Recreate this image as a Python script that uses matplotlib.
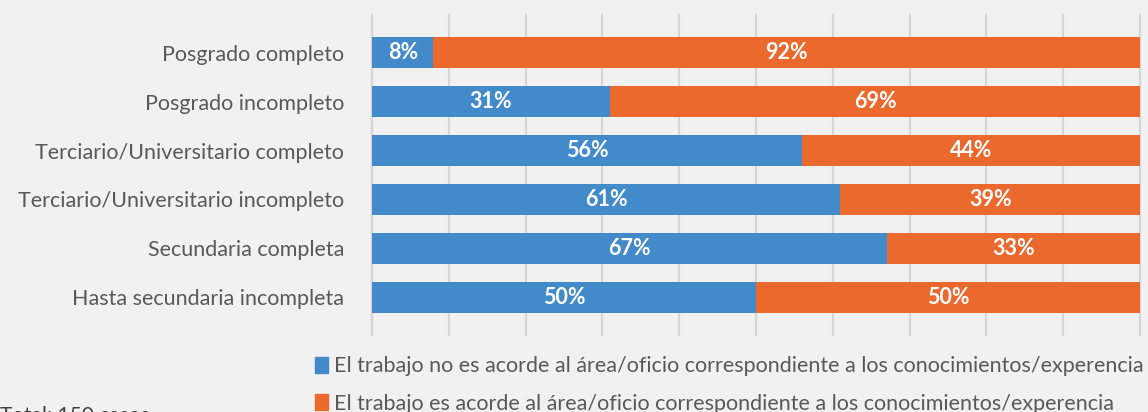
import matplotlib.pyplot as plt
from matplotlib.patches import Patch

# ── data ─────────────────────────────────────────────
categories = [
    "Posgrado completo",
    "Posgrado incompleto",
    "Terciario/Universitario completo",
    "Terciario/Universitario incompleto",
    "Secundaria completa",
    "Hasta secundaria incompleta",
]
no_acorde = [8, 31, 56, 61, 67, 50]
acorde = [92, 69, 44, 39, 33, 50]
series_labels = [
    "El trabajo no es acorde al área/oficio correspondiente a los conocimientos/experencia",
    "El trabajo es acorde al área/oficio correspondiente a los conocimientos/experencia",
]
note = "Total: 150 casos"

BLUE = "#428ACA"
ORANGE = "#EC692E"
BG = "#F1F1F1"
GRID = "#D6D6D6"
TXT = "#595959"

plt.rcParams["font.family"] = ["Lato", "DejaVu Sans"]

fig = plt.figure(figsize=(11.48, 4.12), dpi=100, facecolor=BG)
ax = fig.add_axes([372 / 1148, 1 - 335 / 412, 768 / 1148, 320 / 412])
ax.set_facecolor(BG)

y = list(range(len(categories)))
h = 0.63
ax.barh(y, no_acorde, height=h, color=BLUE, zorder=3)
ax.barh(y, acorde, left=no_acorde, height=h, color=ORANGE, zorder=3)

# value labels
for i in y:
    ax.text(no_acorde[i] / 2, i, f"{no_acorde[i]}%", ha="center", va="center",
            color="white", fontsize=15.5, fontweight="bold", zorder=4)
    ax.text(no_acorde[i] + acorde[i] / 2, i, f"{acorde[i]}%", ha="center", va="center",
            color="white", fontsize=15.5, fontweight="bold", zorder=4)

ax.set_xlim(0, 100)
ax.set_ylim(5.77, -0.77)
ax.set_xticks(range(0, 101, 10))
ax.set_xticklabels([])
ax.tick_params(axis="both", length=0)
ax.set_yticks(y)
ax.set_yticklabels(categories, fontsize=15.5, color=TXT)
ax.tick_params(axis="y", pad=20)
ax.grid(axis="x", color=GRID, linewidth=1.5, zorder=0)
for ln in ax.get_xgridlines():
    ln.set_clip_on(False)
for s in ["top", "right", "bottom"]:
    ax.spines[s].set_visible(False)
ax.spines["left"].set_color(GRID)
ax.spines["left"].set_linewidth(1.5)

# legend
handles = [Patch(color=BLUE), Patch(color=ORANGE)]
leg = fig.legend(handles, series_labels, loc="center left",
                 bbox_to_anchor=(306 / 1148, 1 - 385 / 412), frameon=False,
                 fontsize=15.5, handlelength=0.6, handleheight=0.8,
                 handletextpad=0.3, labelspacing=0.8, borderaxespad=0)
for t in leg.get_texts():
    t.set_color(TXT)

fig.text(0.0, 1 - 422 / 412, note, fontsize=15, color="#404040", va="baseline")

fig.savefig("out.png", dpi=100, facecolor=BG)
